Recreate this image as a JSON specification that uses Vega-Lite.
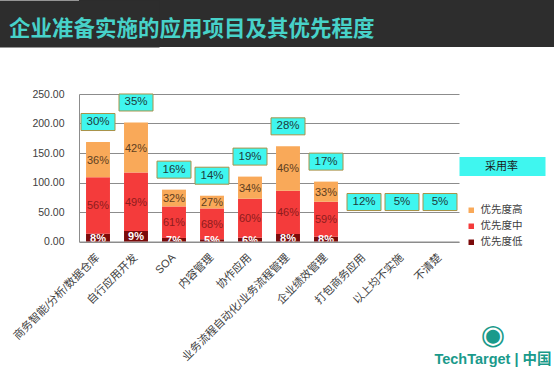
{
  "$schema": "https://vega.github.io/schema/vega-lite/v6.json",
  "padding": 0,
  "background": "white",
  "spacing": 37,
  "datasets": {
    "seg": [
      {"app": "商务智能/分析/数据仓库", "priority": "优先度低", "lvl": 1, "value": 13.3, "pct": "8%"},
      {"app": "商务智能/分析/数据仓库", "priority": "优先度中", "lvl": 2, "value": 95.6, "pct": "56%"},
      {"app": "商务智能/分析/数据仓库", "priority": "优先度高", "lvl": 3, "value": 59.7, "pct": "36%"},
      {"app": "自行应用开发", "priority": "优先度低", "lvl": 1, "value": 17.9, "pct": "9%"},
      {"app": "自行应用开发", "priority": "优先度中", "lvl": 2, "value": 99.0, "pct": "49%"},
      {"app": "自行应用开发", "priority": "优先度高", "lvl": 3, "value": 84.8, "pct": "42%"},
      {"app": "SOA", "priority": "优先度低", "lvl": 1, "value": 6.0, "pct": "7%"},
      {"app": "SOA", "priority": "优先度中", "lvl": 2, "value": 53.4, "pct": "61%"},
      {"app": "SOA", "priority": "优先度高", "lvl": 3, "value": 28.5, "pct": "32%"},
      {"app": "内容管理", "priority": "优先度低", "lvl": 1, "value": 3.8, "pct": "5%"},
      {"app": "内容管理", "priority": "优先度中", "lvl": 2, "value": 52.2, "pct": "68%"},
      {"app": "内容管理", "priority": "优先度高", "lvl": 3, "value": 21.6, "pct": "27%"},
      {"app": "协作应用", "priority": "优先度低", "lvl": 1, "value": 6.5, "pct": "6%"},
      {"app": "协作应用", "priority": "优先度中", "lvl": 2, "value": 66.0, "pct": "60%"},
      {"app": "协作应用", "priority": "优先度高", "lvl": 3, "value": 37.5, "pct": "34%"},
      {"app": "业务流程自动化/业务流程管理", "priority": "优先度低", "lvl": 1, "value": 12.8, "pct": "8%"},
      {"app": "业务流程自动化/业务流程管理", "priority": "优先度中", "lvl": 2, "value": 73.4, "pct": "46%"},
      {"app": "业务流程自动化/业务流程管理", "priority": "优先度高", "lvl": 3, "value": 75.1, "pct": "46%"},
      {"app": "企业绩效管理", "priority": "优先度低", "lvl": 1, "value": 8.2, "pct": "8%"},
      {"app": "企业绩效管理", "priority": "优先度中", "lvl": 2, "value": 59.2, "pct": "59%"},
      {"app": "企业绩效管理", "priority": "优先度高", "lvl": 3, "value": 34.1, "pct": "33%"}
    ],
    "adopt": [
      {"app": "商务智能/分析/数据仓库", "series": "采用率", "rate": "30%", "total": 168.6},
      {"app": "自行应用开发", "series": "采用率", "rate": "35%", "total": 201.7},
      {"app": "SOA", "series": "采用率", "rate": "16%", "total": 87.9},
      {"app": "内容管理", "series": "采用率", "rate": "14%", "total": 77.6},
      {"app": "协作应用", "series": "采用率", "rate": "19%", "total": 110.0},
      {"app": "业务流程自动化/业务流程管理", "series": "采用率", "rate": "28%", "total": 161.3},
      {"app": "企业绩效管理", "series": "采用率", "rate": "17%", "total": 101.5},
      {"app": "打包商务应用", "series": "采用率", "rate": "12%", "total": 0},
      {"app": "以上均不实施", "series": "采用率", "rate": "5%", "total": 0},
      {"app": "不清楚", "series": "采用率", "rate": "5%", "total": 0}
    ]
  },
  "vconcat": [
    {
      "width": 475,
      "height": 47,
      "view": {"fill": "#2d2d2d", "stroke": null},
      "data": {"values": [{"k": 1}]},
      "mark": {"type": "text", "text": ""},
      "encoding": {
        "y": {
          "datum": 0,
          "type": "quantitative",
          "scale": {"domain": [0, 1]},
          "axis": {
            "title": null,
            "labels": false,
            "ticks": false,
            "grid": false,
            "domain": true,
            "domainWidth": 160,
            "domainColor": "#2d2d2d",
            "domainCap": "butt",
            "minExtent": 79,
            "maxExtent": 79
          }
        }
      },
      "title": {
        "text": "企业准备实施的应用项目及其优先程度",
        "anchor": "start",
        "frame": "group",
        "offset": -40,
        "dx": -70,
        "fontSize": 21.5,
        "fontWeight": "bold",
        "color": "#47D2C9",
        "font": "Noto Sans CJK SC"
      }
    },
    {
      "width": 380,
      "height": 147.5,
      "title": {
        "text": "◉",
        "subtitle": "TechTarget | 中国",
        "orient": "bottom",
        "anchor": "end",
        "align": "center",
        "frame": "group",
        "dx": 34,
        "offset": -40,
        "fontSize": 28,
        "font": "DejaVu Sans",
        "fontWeight": "normal",
        "color": "#1A9A8B",
        "subtitleFont": "Liberation Sans, Noto Sans CJK SC",
        "subtitleFontSize": 14.5,
        "subtitleFontWeight": "bold",
        "subtitleColor": "#1A9A8B",
        "subtitlePadding": 3
      },
      "encoding": {
        "x": {
          "field": "app",
          "type": "nominal",
          "sort": null,
          "scale": {
            "domain": ["商务智能/分析/数据仓库", "自行应用开发", "SOA", "内容管理", "协作应用", "业务流程自动化/业务流程管理", "企业绩效管理", "打包商务应用", "以上均不实施", "不清楚"],
            "paddingInner": 0.37,
            "paddingOuter": 0.185
          },
          "axis": {
            "title": null,
            "labelAngle": -45,
            "labelAlign": "right",
            "labelBaseline": "middle",
            "labelPadding": 14,
            "ticks": false,
            "tickSize": 0,
            "labelFontSize": 11,
            "labelColor": "#404040",
            "labelFont": "Liberation Sans, Noto Sans CJK SC",
            "labelLimit": 250,
            "domainColor": "#8C8C8C",
            "grid": false
          }
        }
      },
      "layer": [
        {
          "data": {"name": "seg"},
          "mark": {"type": "bar"},
          "encoding": {
            "y": {
              "field": "value",
              "type": "quantitative",
              "stack": "zero",
              "scale": {"domain": [0, 250], "nice": false},
              "axis": {"title": null, "format": ".2f", "values": [0, 50, 100, 150, 200, 250]}
            },
            "color": {
              "field": "priority",
              "type": "nominal",
              "scale": {"domain": ["优先度高", "优先度中", "优先度低"], "range": ["#F9A959", "#F43B3B", "#7B0A0A"]},
              "legend": {
                "orient": "none",
                "legendX": 387,
                "legendY": 205,
                "title": null,
                "symbolType": "square",
                "symbolSize": 30,
                "symbolStrokeWidth": 0,
                "labelFontSize": 10.5,
                "labelColor": "#404040",
                "labelFont": "Noto Sans CJK SC",
                "rowPadding": 5,
                "labelOffset": 4
              }
            },
            "order": {"field": "lvl", "type": "quantitative"}
          }
        },
        {
          "data": {"name": "seg"},
          "mark": {"type": "text", "fontSize": 11, "font": "Liberation Sans", "baseline": "middle", "dy": 1},
          "encoding": {
            "y": {"field": "value", "type": "quantitative", "stack": "zero", "bandPosition": 0.5, "axis": {"title": null, "format": ".2f", "values": [0, 50, 100, 150, 200, 250]}},
            "detail": {"field": "priority", "type": "nominal"},
            "order": {"field": "lvl", "type": "quantitative"},
            "text": {"condition": {"test": "datum.lvl === 1", "value": ""}, "field": "pct", "type": "nominal"},
            "color": {"condition": {"test": "datum.lvl === 2", "value": "#8E1C1C"}, "value": "#5E4020"}
          }
        },
        {
          "data": {"name": "seg"},
          "mark": {"type": "text", "fontSize": 11, "font": "Liberation Sans", "fontWeight": "bold", "baseline": "middle", "dy": 1, "color": "white", "clip": true},
          "encoding": {
            "y": {"field": "value", "type": "quantitative", "stack": "zero", "bandPosition": 0.5, "axis": {"title": null, "format": ".2f", "values": [0, 50, 100, 150, 200, 250]}},
            "detail": {"field": "priority", "type": "nominal"},
            "order": {"field": "lvl", "type": "quantitative"},
            "text": {"condition": {"test": "datum.lvl !== 1", "value": ""}, "field": "pct", "type": "nominal"}
          }
        },
        {
          "data": {"name": "adopt"},
          "transform": [{"filter": "datum.total > 0"}],
          "mark": {"type": "point", "shape": "M-1,-0.5H1V0.5H-1Z", "filled": true, "fill": "#3FF6EF", "stroke": "#A89248", "strokeWidth": 1, "size": 1156, "yOffset": -20},
          "encoding": {
            "y": {"field": "total", "type": "quantitative", "axis": {"title": null, "format": ".2f", "values": [0, 50, 100, 150, 200, 250]}},
            "opacity": {
              "field": "series",
              "type": "nominal",
              "scale": {"range": [1]},
              "legend": {
                "orient": "none",
                "legendX": 380,
                "legendY": 123,
                "title": null,
                "symbolType": "M-1,-0.22H1V0.22H-1Z",
                "symbolSize": 7396,
                "symbolFillColor": "#3FF6EF",
                "symbolStrokeColor": "#A89248",
                "symbolStrokeWidth": 1,
                "labelOffset": -61,
                "labelFontSize": 11,
                "labelColor": "#1a1a1a",
                "labelFont": "Noto Sans CJK SC"
              }
            }
          }
        },
        {
          "data": {"name": "adopt"},
          "transform": [{"filter": "datum.total == 0"}],
          "mark": {"type": "point", "shape": "M-1,-0.5H1V0.5H-1Z", "filled": true, "fill": "#3FF6EF", "stroke": "#A89248", "strokeWidth": 1, "size": 1156, "opacity": 1, "yOffset": -20},
          "encoding": {
            "y": {"datum": 33, "type": "quantitative", "axis": {"title": null, "format": ".2f", "values": [0, 50, 100, 150, 200, 250]}}
          }
        },
        {
          "data": {"name": "adopt"},
          "transform": [{"filter": "datum.total > 0"}],
          "mark": {"type": "text", "fontSize": 11.5, "font": "Liberation Sans", "color": "#1D3B3B", "baseline": "middle", "yOffset": -20},
          "encoding": {
            "y": {"field": "total", "type": "quantitative", "axis": {"title": null, "format": ".2f", "values": [0, 50, 100, 150, 200, 250]}},
            "text": {"field": "rate", "type": "nominal"}
          }
        },
        {
          "data": {"name": "adopt"},
          "transform": [{"filter": "datum.total == 0"}],
          "mark": {"type": "text", "fontSize": 11.5, "font": "Liberation Sans", "color": "#1D3B3B", "baseline": "middle", "yOffset": -20},
          "encoding": {
            "y": {"datum": 33, "type": "quantitative", "axis": {"title": null, "format": ".2f", "values": [0, 50, 100, 150, 200, 250]}},
            "text": {"field": "rate", "type": "nominal"}
          }
        }
      ]
    }
  ],
  "config": {
    "view": {"stroke": null},
    "font": "Liberation Sans, Noto Sans CJK SC",
    "axisY": {
      "labelOverlap": false,
      "grid": true,
      "gridColor": "#8C8C8C",
      "domainColor": "#8C8C8C",
      "ticks": false,
      "tickSize": 0,
      "labelPadding": 15,
      "minExtent": 79,
      "maxExtent": 79,
      "labelFontSize": 10.5,
      "labelColor": "#404040",
      "labelFont": "Liberation Sans"
    }
  }
}
